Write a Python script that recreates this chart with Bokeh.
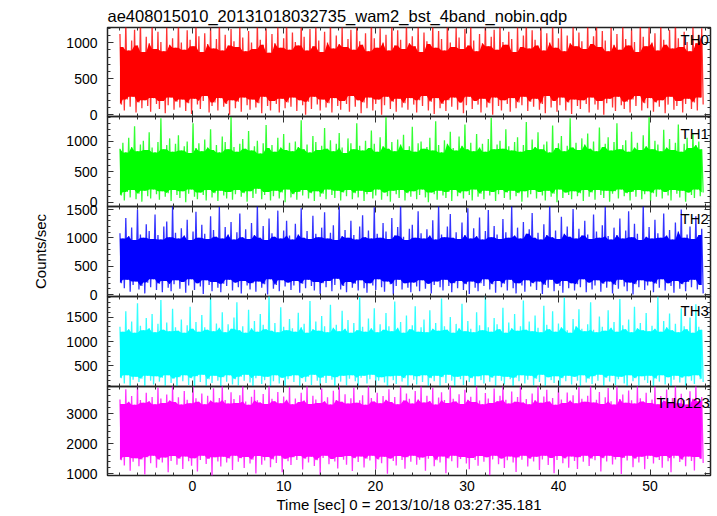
import numpy as np
import pandas as pd
from bokeh.plotting import figure
from bokeh.layouts import column
from bokeh.models import Range1d, LinearAxis, SingleIntervalTicker, Label
from bokeh.embed import file_html
from bokeh.resources import INLINE

TITLE = "ae408015010_20131018032735_wam2_bst_4band_nobin.qdp"
X_LABEL = "Time [sec] 0 = 2013/10/18 03:27:35.181"
Y_LABEL = "Counts/sec"
BANDS = ["TH0", "TH1", "TH2", "TH3", "TH0123"]
T_START, T_END = -7.9, 55.8

# light curves: successive (peak, trough) samples
th0 = [
    1120,140, 940,60, 1270,210, 890,110, 1030,250, 1180,30, 960,170, 1300,90, 870,200, 1080,120, 990,40, 1240,230, 910,150, 1150,80, 1010,190, 880,20, 1210,130, 970,240, 1060,70, 930,180,
    1290,100, 1000,210, 900,50, 1170,160, 1040,10, 950,220, 1260,140, 1090,80, 870,190, 1130,260, 980,30, 1220,120, 920,170, 1050,60, 1300,230, 890,110, 1110,150, 960,0, 1190,200, 1020,90,
    940,180, 1250,40, 1070,240, 880,130, 1160,70, 1000,210, 910,100, 1280,160, 1040,20, 970,250, 1200,120, 860,60, 1120,190, 990,150, 1230,30, 930,220, 1060,90, 1300,170, 900,110, 1140,240,
    1010,50, 960,200, 1270,130, 1080,0, 890,180, 1190,80, 950,250, 1240,140, 1030,60, 870,210, 1150,100, 1000,160, 1290,30, 920,230, 1100,120, 980,70, 1220,190, 940,150, 1050,40, 1180,260,
    900,110, 1260,200, 1020,20, 970,170, 1130,90, 880,240, 1300,60, 1060,150, 930,210, 1200,0, 1000,130, 1110,250, 890,80, 1250,180, 960,40, 1170,220, 1040,100, 910,160, 1280,70, 990,230,
    1090,140, 950,30, 1230,200, 870,120, 1140,260, 1020,60, 980,180, 1270,10, 930,230, 1160,90, 1050,150, 890,50, 1300,200, 1000,110, 940,240, 1210,70, 1070,170, 910,20, 1190,130, 960,250,
    1240,80, 1030,190, 880,140, 1120,30, 990,220, 1290,100, 950,160, 1080,0, 1180,240, 900,120, 1260,60, 1010,200, 970,150, 1150,40, 1050,230, 870,90, 1220,170, 940,130, 1100,250, 1300,50,
    920,180, 1170,110, 1040,220, 960,70, 1250,150, 890,20, 1130,260, 1000,100, 1280,190, 930,40, 1060,130, 1200,240, 880,60, 1100,170, 990,10, 1230,210, 950,120, 1140,80, 1020,200, 910,150,
    1270,30, 980,240, 1090,140, 1300,70, 940,190, 1160,0, 1030,160, 880,220, 1210,100, 970,50, 1120,250, 900,130, 1240,80, 1050,180, 960,30, 1190,210, 1010,120, 870,260, 1280,60, 1080,160,
    950,90, 1220,230, 1000,40, 1130,170, 890,110, 1260,200, 1040,20, 970,140, 1180,250, 920,70, 1300,120, 1060,190, 940,30, 1150,150, 1010,220, 880,80, 1230,170, 990,60, 1110,240, 1200,140,
]

th1 = [
    880,110, 980,30, 820,170, 1060,80, 910,200, 1250,50, 840,140, 950,10, 1010,190, 860,100, 1150,60, 900,210, 820,130, 990,40, 1380,180, 870,90, 940,150, 1050,20, 830,200, 960,120,
    1100,70, 850,180, 920,0, 1000,140, 810,210, 1300,90, 890,50, 970,160, 840,120, 1030,30, 900,200, 1200,80, 860,150, 940,20, 820,190, 1080,110, 990,60, 870,170, 1400,40, 910,130,
    830,200, 960,90, 1040,150, 880,10, 1170,180, 850,70, 920,140, 1010,220, 800,50, 970,120, 1270,170, 890,30, 940,100, 830,190, 1060,60, 900,160, 1120,0, 860,210, 980,80, 840,130,
    1000,40, 910,170, 1350,110, 870,200, 950,60, 820,150, 1090,20, 990,180, 860,90, 930,140, 1220,50, 880,210, 1020,120, 840,70, 960,190, 1140,30, 900,160, 810,100, 1050,200, 970,50,
    870,150, 1300,80, 930,190, 850,20, 1010,130, 890,170, 1180,60, 960,110, 830,210, 1070,40, 920,160, 1400,100, 880,10, 990,190, 840,130, 1030,70, 950,200, 1110,30, 860,150, 920,90,
    1240,180, 830,50, 970,120, 1000,210, 880,80, 910,0, 1060,160, 850,130, 1330,40, 940,190, 820,110, 1020,70, 960,170, 1160,20, 890,200, 850,100, 1080,150, 930,60, 1280,180, 870,120,
    980,30, 840,210, 1120,90, 900,140, 960,50, 830,190, 1040,110, 1390,170, 870,20, 950,130, 1010,200, 880,70, 1200,160, 920,40, 850,190, 990,100, 1070,150, 830,10, 940,180, 1320,80,
    860,130, 1030,200, 910,60, 1150,170, 870,110, 950,30, 1000,190, 820,90, 1260,140, 890,0, 970,210, 1090,70, 840,160, 930,120, 1380,50, 900,180, 980,100, 860,150, 1050,20, 950,200,
    1130,90, 880,160, 1000,40, 840,200, 1230,120, 910,70, 960,190, 1070,10, 850,140, 990,180, 1300,60, 870,210, 940,100, 1020,150, 830,30, 1160,170, 900,90, 980,200, 860,50, 1100,130,
    920,180, 1400,20, 870,150, 1010,90, 950,210, 840,60, 1190,170, 900,110, 1040,30, 860,200, 980,140, 1280,80, 830,190, 960,10, 1060,160, 890,120, 1140,70, 940,210, 1000,100, 870,160,
]

th2 = [
    1080,200, 990,110, 1350,260, 1030,50, 1180,170, 960,230, 1500,90, 1060,150, 1000,20, 1240,210, 1120,130, 980,270, 1410,80, 1050,190, 970,40, 1200,240, 1290,120, 1010,60, 1560,180, 1090,250,
    990,100, 1170,220, 1040,30, 1320,160, 960,270, 1110,80, 1460,200, 1000,140, 1230,10, 1070,250, 980,170, 1380,60, 1140,220, 1020,120, 1550,40, 990,190, 1190,150, 1060,260, 1280,70, 970,210,
    1100,130, 1430,20, 1010,240, 1150,160, 980,90, 1260,200, 1050,50, 1580,230, 1000,120, 1210,180, 960,0, 1340,270, 1080,100, 1020,170, 1480,60, 990,250, 1130,140, 1300,210, 1040,80, 970,160,
    1250,240, 1060,30, 1520,190, 1000,110, 1120,260, 980,150, 1390,70, 1070,220, 1010,10, 1180,200, 1450,130, 990,240, 1090,60, 1220,170, 960,280, 1560,90, 1030,150, 1140,40, 1000,220, 1300,120,
    1050,190, 970,70, 1200,250, 1400,110, 1010,30, 1130,200, 990,160, 1540,80, 1070,270, 1000,130, 1260,50, 1110,230, 980,180, 1350,0, 1040,150, 1190,260, 1600,90, 1020,200, 960,120, 1160,40,
    1230,210, 1000,140, 1470,60, 1080,250, 990,100, 1150,190, 1040,20, 1310,170, 970,230, 1580,130, 1060,70, 1010,260, 1200,150, 1420,40, 1000,200, 1100,110, 980,240, 1270,80, 1050,180, 1520,10,
    990,230, 1170,120, 1030,60, 1360,200, 970,150, 1120,270, 1490,90, 1010,180, 1210,30, 1060,240, 980,130, 1330,190, 1100,70, 1000,260, 1560,110, 1040,20, 1180,200, 990,160, 1280,50, 1070,250,
    1150,140, 1440,200, 1000,80, 1090,230, 970,10, 1240,170, 1050,120, 1600,260, 1010,60, 1130,190, 980,150, 1370,30, 1070,240, 1200,110, 1020,200, 1510,70, 990,180, 1160,130, 1040,270, 1300,40,
    1060,210, 980,90, 1410,160, 1110,250, 1000,50, 1220,190, 1550,120, 1030,230, 970,20, 1180,170, 1050,100, 1340,260, 990,140, 1130,60, 1470,210, 1010,0, 1250,180, 1070,130, 960,250, 1590,80,
    1020,160, 1190,230, 990,40, 1320,190, 1080,120, 1000,270, 1430,70, 1040,200, 1140,150, 970,30, 1270,240, 1110,100, 1500,180, 1000,60, 1060,220, 1200,130, 980,260, 1380,90, 1050,170, 1160,20,
]

th3 = [
    1300,250, 1200,140, 1620,310, 1250,60, 1410,220, 1180,280, 1780,170, 1320,240, 1230,30, 1480,300, 1270,200, 1560,120, 1190,290, 1360,180, 1850,260, 1240,90, 1390,310, 1210,150, 1670,240, 1290,40,
    1220,270, 1450,190, 1180,310, 1330,110, 1710,250, 1260,0, 1400,290, 1200,170, 1540,320, 1290,80, 1240,230, 1900,150, 1210,300, 1370,200, 1280,50, 1600,270, 1190,180, 1350,310, 1260,120, 1490,230,
    1800,100, 1230,280, 1310,200, 1180,320, 1650,160, 1270,40, 1420,250, 1200,300, 1560,130, 1340,210, 1250,280, 1940,60, 1220,190, 1380,310, 1190,140, 1700,260, 1300,20, 1230,230, 1460,290, 1270,170,
    1200,310, 1590,90, 1290,250, 1360,180, 1180,280, 1830,110, 1250,320, 1410,200, 1220,60, 1520,260, 1310,150, 1190,300, 1750,220, 1280,10, 1340,270, 1210,180, 1630,300, 1260,100, 1440,240, 1180,310,
    1380,190, 1230,50, 1910,260, 1300,300, 1200,140, 1470,230, 1270,320, 1680,80, 1190,200, 1350,270, 1240,160, 1580,0, 1310,290, 1210,210, 1820,130, 1280,300, 1400,180, 1180,250, 1530,70, 1250,310,
    1330,220, 1720,120, 1200,290, 1290,170, 1450,310, 1190,40, 1640,250, 1260,190, 1380,300, 1220,90, 1880,270, 1310,150, 1240,320, 1500,200, 1180,60, 1360,280, 1270,230, 1770,110, 1210,300, 1420,170,
    1260,250, 1190,30, 1600,290, 1330,210, 1230,140, 1950,310, 1290,180, 1200,260, 1480,70, 1350,300, 1250,200, 1690,120, 1180,280, 1390,230, 1270,-30, 1560,260, 1220,190, 1310,310, 1840,140, 1240,220,
    1410,300, 1210,100, 1530,240, 1280,170, 1190,320, 1730,60, 1340,270, 1250,210, 1620,150, 1200,290, 1370,10, 1290,250, 1900,190, 1230,300, 1180,120, 1460,280, 1310,200, 1660,90, 1260,310, 1210,160,
    1350,240, 1800,130, 1240,290, 1190,200, 1510,320, 1300,50, 1220,260, 1640,180, 1280,300, 1400,110, 1200,230, 1870,280, 1330,140, 1250,20, 1450,310, 1190,190, 1710,250, 1270,100, 1380,290, 1230,210,
    1580,150, 1210,300, 1320,60, 1260,240, 1920,180, 1200,310, 1420,120, 1290,270, 1570,0, 1230,220, 1360,300, 1190,160, 1680,260, 1310,90, 1250,290, 1490,200, 1180,130, 1760,310, 1300,230, 1240,170,
]

th0123 = [
    3480,1450, 3330,1280, 3820,1560, 3400,1100, 3590,1400, 3300,1520, 3950,1250, 3460,1480, 3370,980, 3700,1550, 3420,1350, 3560,1600, 3320,1200, 3880,1470, 3510,1380, 3360,1540, 3640,1050, 3440,1430, 3950,1590, 3390,1300,
    3550,1500, 3310,1160, 3760,1580, 3470,1420, 3350,1270, 3920,1520, 3520,1080, 3400,1460, 3680,1600, 3320,1330, 3600,1490, 3440,900, 3850,1550, 3380,1410, 3530,1240, 3950,1570, 3460,1380, 3340,1510, 3720,1130, 3490,1600,
    3360,1400, 3620,1520, 3950,1190, 3410,1560, 3300,1340, 3570,1470, 3800,1010, 3450,1590, 3380,1300, 3660,1440, 3330,1560, 3950,1220, 3500,1480, 3420,1360, 3730,1600, 3350,1050, 3580,1500, 3470,1420, 3900,1290, 3320,1550,
    3510,1460, 3390,1590, 3700,1140, 3440,1500, 3950,1380, 3330,1570, 3600,1260, 3480,1450, 3360,960, 3840,1530, 3420,1600, 3550,1320, 3310,1490, 3770,1410, 3460,1180, 3950,1560, 3400,1470, 3650,1300, 3340,1590, 3520,1090,
    3880,1520, 3370,1390, 3450,1580, 3620,1210, 3300,1500, 3950,1440, 3530,1600, 3410,1150, 3700,1480, 3350,1350, 3590,1570, 3470,1000, 3820,1510, 3390,1430, 3560,1280, 3320,1590, 3950,1460, 3440,1170, 3680,1550, 3500,1400,
    3340,1600, 3760,1300, 3480,1470, 3950,1540, 3380,1100, 3600,1500, 3430,1590, 3870,1250, 3310,1450, 3540,1380, 3720,1580, 3460,1020, 3360,1510, 3950,1420, 3500,1600, 3410,1200, 3650,1490, 3330,1560, 3800,1340, 3470,1150,
    3570,1530, 3390,1460, 3950,1270, 3440,1590, 3320,1400, 3690,1550, 3510,950, 3360,1480, 3840,1600, 3420,1320, 3600,1510, 3950,1190, 3470,1450, 3340,1580, 3740,1380, 3400,1060, 3560,1540, 3910,1470, 3380,1600, 3490,1240,
    3320,1500, 3680,1410, 3450,1570, 3950,1130, 3370,1480, 3580,1600, 3800,1290, 3410,1530, 3530,1020, 3300,1460, 3950,1590, 3480,1350, 3360,1510, 3710,1200, 3440,1580, 3620,1430, 3350,1160, 3890,1550, 3500,1400, 3400,1600,
    3600,1260, 3950,1500, 3380,1450, 3470,1590, 3730,1080, 3330,1520, 3550,1410, 3860,1600, 3420,1310, 3310,1480, 3950,1560, 3490,990, 3640,1530, 3370,1440, 3780,1600, 3450,1220, 3340,1500, 3950,1380, 3520,1570, 3410,1150,
    3700,1490, 3360,1600, 3480,1340, 3920,1550, 3320,1460, 3590,1200, 3440,1590, 3810,1420, 3390,1050, 3530,1520, 3950,1600, 3350,1390, 3670,1470, 3460,1250, 3310,1580, 3750,1430, 3500,1110, 3950,1560, 3420,1490, 3560,1360,
]

SERIES = [th0, th1, th2, th3, th0123]
COLORS = ["#ff0000", "#00ff00", "#0000ff", "#00ffff", "#ff00ff"]
Y_RANGES = [(-25, 1210), (-70, 1410), (-35, 1553), (80, 1920), (943, 3910)]
Y_TICK_STEP = [500, 500, 500, 500, 1000]

# layout (pixels)
FONT = "Liberation Sans"
X0, X1 = -9.26, 56.6
FRAME_H = [89, 90, 90, 90, 90]
TOP_PAD = 27
BOTTOM_PAD = 39
OVER = 10          # transparent overlap band so boundary tick labels are not cut
LEFT_PAD = 107
RIGHT_PAD = 7
FRAME_W = 603
LABEL_OFF = [3, 8, 3, 5, 8]
LABEL_X = [56.42, 56.42, 56.42, 56.42, 56.52]


def style_axis(ax, show_labels):
    ax.axis_line_color = None
    ax.major_tick_in = 6
    ax.major_tick_out = 0
    ax.minor_tick_in = 3
    ax.minor_tick_out = 0
    ax.major_tick_line_color = "#333333"
    ax.minor_tick_line_color = "#333333"
    ax.major_tick_line_width = 1
    ax.minor_tick_line_width = 1
    if show_labels:
        ax.major_label_text_font = FONT
        ax.major_label_text_font_size = "14px"
        ax.major_label_text_color = "black"
    else:
        ax.major_label_text_font_size = "0px"
        ax.major_label_standoff = 0


figs = []
n = len(SERIES)
for i in range(n):
    vals = np.asarray(SERIES[i], dtype=float)
    t = np.linspace(T_START, T_END, len(vals))
    hi, lo = vals[0::2], vals[1::2]
    m = min(len(hi), len(lo))
    hi, lo = hi[:m], lo[:m]
    t_hi = t[0::2][:m]
    core_top = pd.Series(hi).rolling(3, center=True, min_periods=1).min().to_numpy()
    core_bot = pd.Series(lo).rolling(3, center=True, min_periods=1).max().to_numpy()

    top = TOP_PAD if i == 0 else OVER
    bottom = BOTTOM_PAD if i == n - 1 else OVER
    y0, y1 = Y_RANGES[i]
    p = figure(width=LEFT_PAD + FRAME_W + RIGHT_PAD, height=top + FRAME_H[i] + bottom,
               x_range=Range1d(X0, X1), y_range=Range1d(y0, y1),
               x_axis_type=None, y_axis_type=None,
               output_backend="svg", toolbar_location=None,
               min_border_left=LEFT_PAD, min_border_right=RIGHT_PAD,
               min_border_top=top, min_border_bottom=bottom,
               margin=(0 if i == 0 else -2 * OVER, 0, 0, 0))
    p.outline_line_color = "#222222"
    p.outline_line_width = 1.5
    p.background_fill_color = None
    p.border_fill_color = None

    if i == 0:
        p.title.text = TITLE
        p.title.text_font = FONT
        p.title.text_font_size = "16.5px"
        p.title.text_font_style = "normal"
        p.title.text_color = "black"
        p.title.align = "left"
        p.title.standoff = 6

    p.varea(x=t_hi, y1=core_bot, y2=core_top, fill_color=COLORS[i])
    p.line(t, vals, line_color=COLORS[i], line_width=1.3, line_alpha=0.8)

    yt = SingleIntervalTicker(interval=Y_TICK_STEP[i], num_minor_ticks=5)
    xt = SingleIntervalTicker(interval=10, num_minor_ticks=5)

    left = LinearAxis(ticker=yt)
    style_axis(left, True)
    left.major_label_standoff = 10
    if i == 2:
        left.axis_label = Y_LABEL
        left.axis_label_text_font = FONT
        left.axis_label_text_font_size = "15px"
        left.axis_label_text_font_style = "normal"
        left.axis_label_text_color = "black"
        left.axis_label_standoff = 14
    p.add_layout(left, "left")

    right = LinearAxis(ticker=yt)
    style_axis(right, False)
    p.add_layout(right, "right")

    above = LinearAxis(ticker=xt)
    style_axis(above, False)
    p.add_layout(above, "above")

    below = LinearAxis(ticker=xt)
    if i == n - 1:
        style_axis(below, True)
        below.major_label_standoff = 5
        below.axis_label = X_LABEL
        below.axis_label_text_font = FONT
        below.axis_label_text_font_size = "15px"
        below.axis_label_text_font_style = "normal"
        below.axis_label_text_color = "black"
        below.axis_label_standoff = 2
    else:
        style_axis(below, False)
    p.add_layout(below, "below")

    units_per_px = (y1 - y0) / FRAME_H[i]
    p.add_layout(Label(x=LABEL_X[i], y=y1 - LABEL_OFF[i] * units_per_px, text=BANDS[i],
                       text_align="right", text_baseline="top", text_font=FONT,
                       text_font_size="15px", text_color="black"))
    figs.append(p)

root = column(*figs, spacing=0)
open("out.html", "w").write(file_html(root, INLINE))
